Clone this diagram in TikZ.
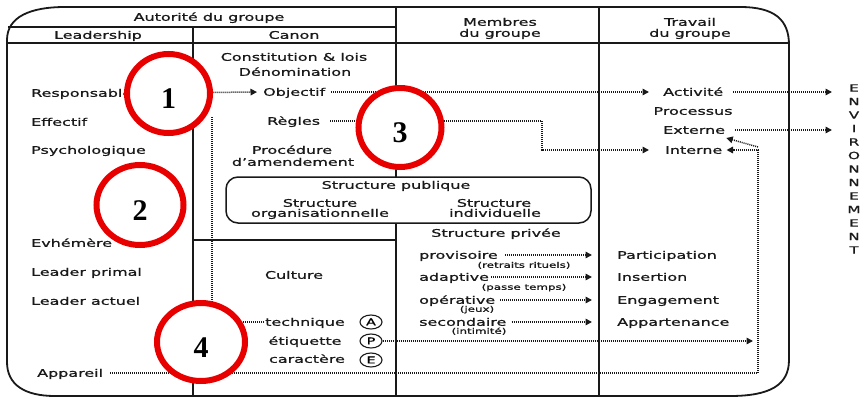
\documentclass[tikz,border=0pt]{standalone}
\usepackage{fontspec}
\setmainfont{DejaVu Sans}[FakeStretch=1.52,FakeBold=1]
\newfontfamily\numfont{Liberation Serif}
\usetikzlibrary{arrows.meta,shapes.geometric}
\definecolor{ringred}{RGB}{232,0,0}
\definecolor{ink}{RGB}{25,25,25}

\begin{document}
\begin{tikzpicture}[x=1pt,y=-1pt,
  txt/.style={inner sep=0pt, text=ink, font=\fontsize{10.5}{12}\selectfont, text height=7.6pt, text depth=0pt},
  small/.style={inner sep=0pt, text=ink, font=\fontsize{7.8}{9}\selectfont, text height=5.6pt, text depth=0pt},
  rule/.style={draw=ink, line width=1.5pt},
  outline/.style={draw=ink, line width=1.8pt, line join=round},
  dotline/.style={draw=ink, line width=1.5pt, dash pattern=on 1pt off 1pt},
  arrowend/.style={-{Triangle[length=6.5pt,width=6.5pt]}},
  badge/.style={draw=ink, ellipse, line width=1.1pt, inner sep=0pt, minimum width=22pt, minimum height=14pt, font=\fontsize{9.5}{10}\selectfont, text height=6.8pt, text depth=0pt},
  numring/.style={ellipse, draw=ringred, fill=white, line width=6pt, inner sep=0pt, text height=30pt, text depth=0pt, font=\numfont\bfseries\fontsize{30}{30}\selectfont},
  envl/.style={inner sep=0pt, text=ink, font=\fontsize{10}{10}\selectfont, text height=7.2pt, text depth=0pt}
]
\useasboundingbox (0,0) rectangle (865,399);

% outer frame with rounded corners
\draw[outline] (7,40) .. controls (7,17) and (30,7) .. (65,7) -- (740,7)
  .. controls (775,7) and (789,20) .. (789,45) -- (789,360)
  .. controls (789,385) and (770,396) .. (730,396) -- (55,396)
  .. controls (25,396) and (7,385) .. (7,362) -- cycle;

% table rules
\draw[rule] (8,27) -- (396,27);
\draw[rule] (7,43) -- (789,43);
\draw[rule] (193,27) -- (193,396);
\draw[rule] (396,7) -- (396,177);
\draw[rule] (396,223) -- (396,396);
\draw[rule] (599,7) -- (599,396);
\draw[rule] (193,240) -- (396,240);
\draw[rule, rounded corners=12pt] (226,177) rectangle (591,223);

% headers
\node[txt] (autorite) at (209,17) {Autorité du groupe};
\node[txt] (leadership) at (98,35) {Leadership};
\node[txt] (canon) at (294,35) {Canon};
\node[txt] (membres) at (500,22) {Membres};
\node[txt] (membres2) at (500,33) {du groupe};
\node[txt] (travail) at (690,22) {Travail};
\node[txt] (travail2) at (690,33) {du groupe};

% leadership column
\node[txt, anchor=west] (resp) at (31,93) {Responsable};
\node[txt, anchor=west] (effectif) at (31,122) {Effectif};
\node[txt, anchor=west] (psycho) at (31,150) {Psychologique};
\node[txt, anchor=west] (evhem) at (31,243) {Evhémère};
\node[txt, anchor=west] (lprimal) at (31,272) {Leader primal};
\node[txt, anchor=west] (lactuel) at (31,301) {Leader actuel};
\node[txt, anchor=west] (appareil) at (37,373) {Appareil};

% canon column
\node[txt] (constit) at (294,57) {Constitution \& lois};
\node[txt] (denom) at (295,72) {Dénomination};
\node[txt, anchor=west] (obj) at (263,92) {Objectif};
\node[txt, anchor=west] (regles) at (267,121) {Règles};
\node[txt] (proc) at (292,150) {Procédure};
\node[txt] (amend) at (293,162) {d'amendement};
\node[txt] (culture) at (294,275) {Culture};
\node[txt] (tech) at (305,322) {technique};
\node[txt] (etiq) at (305,341) {étiquette};
\node[txt] (carac) at (307,359) {caractère};
\node[badge] (bA) at (371,322) {A};
\node[badge] (bP) at (371,341) {P};
\node[badge] (bE) at (371,360) {E};

% public structure box
\node[txt] (spub) at (396,185) {Structure publique};
\node[txt] (sorg1) at (320,203) {Structure};
\node[txt] (sorg2) at (320,213) {organisationnelle};
\node[txt] (sind1) at (494,203) {Structure};
\node[txt] (sind2) at (495,213) {individuelle};

% private structure
\node[txt] (spriv) at (496,233) {Structure privée};
\node[txt, anchor=west] (prov) at (419,255) {provisoire};
\node[small] (prov2) at (524,265) {(retraits rituels)};
\node[txt, anchor=west] (adapt) at (419,277) {adaptive};
\node[small] (adapt2) at (524,287) {(passe temps)};
\node[txt, anchor=west] (operat) at (419,300) {opérative};
\node[small] (operat2) at (477,309) {(jeux)};
\node[txt, anchor=west] (second) at (419,322) {secondaire};
\node[small] (second2) at (479,331) {(intimité)};

% group work column
\node[txt, anchor=west] (activ) at (663,92) {Activité};
\node[txt] (process) at (693,111) {Processus};
\node[txt, anchor=west] (externe) at (663,130) {Externe};
\node[txt, anchor=west] (interne) at (665,150) {Interne};
\node[txt, anchor=west] (partic) at (617,255) {Participation};
\node[txt, anchor=west] (insert) at (617,277) {Insertion};
\node[txt, anchor=west] (engag) at (617,300) {Engagement};
\node[txt, anchor=west] (appart) at (617,322) {Appartenance};

% environment, written vertically
\foreach \ch [count=\i] in {E,N,V,I,R,O,N,N,E,M,E,N,T}
  \node[envl] (env\i) at (854,{88+13.5*(\i-1)}) {\ch};

% connector end points
\coordinate (envA) at (832,92);
\coordinate (envB) at (832,130);
\coordinate (rbend) at (542,121);
\coordinate (vtop) at (212,117);
\coordinate (abot) at (758,373);
\coordinate (atop) at (758,147);
\coordinate (etiqtip) at (753,341);
\coordinate (provtip) at (592,255);
\coordinate (adapttip) at (592,277);
\coordinate (operattip) at (592,300);
\coordinate (secondtip) at (592,322);

% dotted connectors
\draw[dotline, arrowend, shorten <=3pt, shorten >=6pt] (resp.east) -- (obj.west);
\draw[dotline, arrowend, shorten <=6pt, shorten >=14pt] (obj.east) -- (activ.west);
\draw[dotline, arrowend, shorten <=10pt] (activ.east) -- (envA);
\draw[dotline, arrowend, shorten <=10pt] (externe.east) -- (envB);
\draw[dotline, arrowend, shorten <=10pt, shorten >=16pt] (regles.east) -- (rbend) |- (interne.west);
\draw[dotline, arrowend, shorten <=7pt, shorten >=4pt] (appareil.east) -- (abot) -- (atop |- interne) -- (interne.east);
\draw[dotline, arrowend] (atop) -- ([shift={(1pt,-4pt)}]externe.south east);
\draw[dotline, arrowend] (bP.east) -- (etiqtip);
\draw[dotline, shorten >=1pt] (vtop) |- (tech.west);
\draw[dotline, arrowend, shorten <=7pt] (prov.east) -- (provtip);
\draw[dotline, arrowend, shorten <=2pt] (adapt.east) -- (adapttip);
\draw[dotline, arrowend, shorten <=5pt] (operat.east) -- (operattip);
\draw[dotline, arrowend, shorten <=5pt] (second.east) -- (secondtip);

% numbered red rings
\node[numring, minimum width=83pt, minimum height=79pt] (r1) at (168.5,93.5) {1};
\node[numring, minimum width=87pt, minimum height=80pt] (r2) at (140,205) {2};
\node[numring, minimum width=83pt, minimum height=79pt] (r3) at (400,127.5) {3};
\node[numring, minimum width=88pt, minimum height=78pt] (r4) at (201,342) {4};
\end{tikzpicture}
\end{document}
